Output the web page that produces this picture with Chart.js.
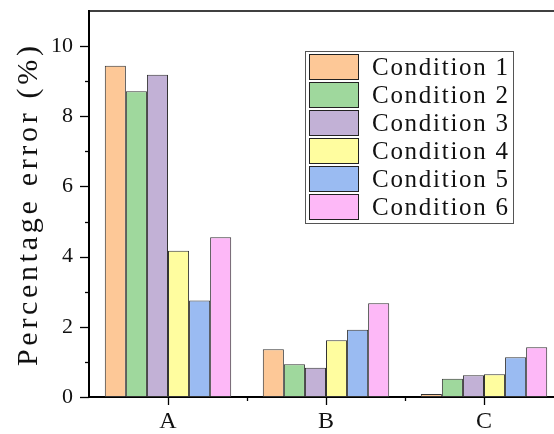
<!DOCTYPE html>
<html>
<head>
<meta charset="utf-8">
<script src="https://cdn.jsdelivr.net/npm/chart.js@4.4.1/dist/chart.umd.min.js"></script>
<style>
html,body{margin:0;padding:0;background:#fff;overflow:hidden;width:554px;height:434px;}
canvas{display:block;}
</style>
</head>
<body>
<canvas id="c" width="570" height="434"></canvas>
<script>
const categories = ['A', 'B', 'C'];
const seriesNames = ['Condition 1', 'Condition 2', 'Condition 3', 'Condition 4', 'Condition 5', 'Condition 6'];
const cond1 = [9.44, 1.36, 0.085];
const cond2 = [8.71, 0.93, 0.52];
const cond3 = [9.18, 0.83, 0.62];
const cond4 = [4.17, 1.62, 0.65];
const cond5 = [2.75, 1.92, 1.13];
const cond6 = [4.55, 2.67, 1.42];
const yTickLabels = [0, 2, 4, 6, 8, 10];
const yMax = 11;
const yTitle = 'Percentage error (%)';

const colors = ['#fdc897', '#9fd89d', '#c2b1d6', '#fffd9f', '#9abbf2', '#fdb8f7'];
const allSeries = [cond1, cond2, cond3, cond4, cond5, cond6];

const datasets = allSeries.map((d, i) => ({
  label: seriesNames[i],
  data: d,
  backgroundColor: colors[i],
  borderColor: '#333333',
  borderWidth: 1,
  borderSkipped: false,
  barPercentage: 1.0,
  categoryPercentage: 0.8
}));

function spacedText(ctx, text, x, y, targetWidth, align) {
  ctx.letterSpacing = '0px';
  const w0 = ctx.measureText(text).width;
  const n = text.length;
  const ls = Math.max(0, (targetWidth - w0) / (n - 1));
  ctx.letterSpacing = ls.toFixed(2) + 'px';
  ctx.textAlign = 'left';
  const startX = align === 'center' ? x - targetWidth / 2 : x;
  ctx.fillText(text, startX, y);
  ctx.letterSpacing = '0px';
}

const decor = {
  id: 'decor',
  afterDraw(chart) {
    const ctx = chart.ctx;
    const a = chart.chartArea;
    const xs = chart.scales.x, ys = chart.scales.y;
    ctx.save();
    ctx.strokeStyle = '#000';
    ctx.lineWidth = 1.5;
    ctx.beginPath();
    ctx.moveTo(a.left, a.top);
    ctx.lineTo(a.right + 10, a.top);
    ctx.stroke();
    ctx.lineWidth = 1.3;
    for (let v = 0; v <= 10; v++) {
      const y = Math.round(ys.getPixelForValue(v)) + 0.5;
      const len = (v % 2 === 0) ? 9 : 4;
      ctx.beginPath();
      ctx.moveTo(a.left, y);
      ctx.lineTo(a.left - len, y);
      ctx.stroke();
    }
    for (let i = 0; i < categories.length; i++) {
      const x = Math.round(xs.getPixelForValue(i)) + 0.5;
      ctx.beginPath();
      ctx.moveTo(x, a.bottom);
      ctx.lineTo(x, a.bottom + 8);
      ctx.stroke();
      if (i < categories.length - 1) {
        const xm = Math.round((xs.getPixelForValue(i) + xs.getPixelForValue(i + 1)) / 2) + 0.5;
        ctx.beginPath();
        ctx.moveTo(xm, a.bottom);
        ctx.lineTo(xm, a.bottom + 4);
        ctx.stroke();
      }
    }
    // y-axis title
    ctx.save();
    ctx.translate(29, (a.top + a.bottom) / 2 + 2);
    ctx.rotate(-Math.PI / 2);
    ctx.fillStyle = '#111';
    ctx.font = '30px "Liberation Serif", serif';
    ctx.textBaseline = 'middle';
    spacedText(ctx, yTitle, 0, 0, 320, 'center');
    ctx.restore();
    // legend
    const bx = 305, by = 51, bw = 208, bh = 172;
    ctx.fillStyle = '#fff';
    ctx.fillRect(bx, by, bw, bh);
    ctx.strokeStyle = '#555';
    ctx.lineWidth = 1;
    ctx.strokeRect(bx + 0.5, by + 0.5, bw, bh);
    ctx.font = '25px "Liberation Serif", serif';
    ctx.textBaseline = 'middle';
    chart.data.datasets.forEach((ds, i) => {
      const sy = 54 + i * 28;
      ctx.fillStyle = ds.backgroundColor;
      ctx.fillRect(309, sy, 49, 25);
      ctx.strokeStyle = '#222';
      ctx.strokeRect(309.5, sy + 0.5, 49, 25);
      ctx.fillStyle = '#111';
      spacedText(ctx, ds.label, 372, sy + 14, 136, 'left');
    });
    ctx.restore();
  }
};

new Chart(document.getElementById('c'), {
  type: 'bar',
  data: { labels: categories, datasets },
  options: {
    responsive: false,
    animation: false,
    layout: { padding: { left: 0, top: 11, right: 7, bottom: 0 } },
    plugins: { legend: { display: false }, tooltip: { enabled: false } },
    scales: {
      x: {
        grid: { display: false },
        border: { display: true, color: '#000', width: 2 },
        ticks: {
          color: '#111',
          font: { family: '"Liberation Serif", serif', size: 24 },
          padding: 2,
          maxRotation: 0
        },
        afterFit(s) { s.height = 37; s.paddingLeft = 0; s.paddingRight = 0; }
      },
      y: {
        min: 0,
        max: yMax,
        grid: { display: false },
        border: { display: true, color: '#000', width: 2 },
        ticks: {
          stepSize: 1,
          color: '#111',
          font: { family: '"Liberation Serif", serif', size: 22 },
          padding: 8,
          callback: (v) => yTickLabels.includes(v) ? String(v) : ''
        },
        title: { display: false, text: yTitle },
        afterFit(s) { s.width = 89; s.paddingTop = 0; s.paddingBottom = 0; }
      }
    }
  },
  plugins: [decor]
});
</script>
</body>
</html>
